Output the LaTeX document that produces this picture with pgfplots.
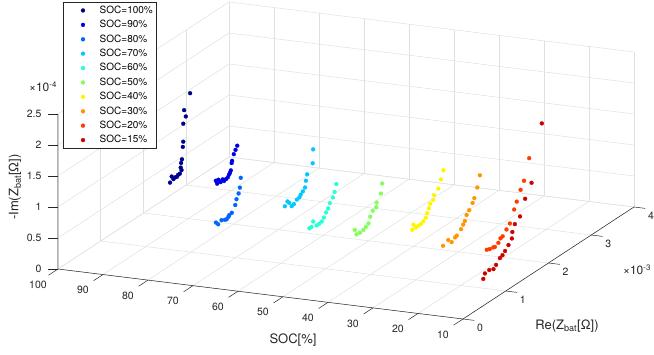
\documentclass[border=0pt]{standalone}
\usepackage{pgfplots}
\pgfplotsset{compat=1.18}
\usepackage{fontspec}
\setmainfont{TeX Gyre Heros}
\definecolor{axc}{rgb}{0.15,0.15,0.15}
\definecolor{gridc}{RGB}{224,224,224}
\definecolor{cA}{RGB}{0,0,143}
\definecolor{cB}{RGB}{0,0,230}
\definecolor{cC}{RGB}{0,100,255}
\definecolor{cD}{RGB}{0,200,255}
\definecolor{cE}{RGB}{40,255,210}
\definecolor{cF}{RGB}{130,255,90}
\definecolor{cG}{RGB}{255,245,0}
\definecolor{cH}{RGB}{255,150,0}
\definecolor{cI}{RGB}{255,60,0}
\definecolor{cJ}{RGB}{205,0,0}
\pgfplotsset{pt/.style={color=#1, only marks, mark=*, mark size=2pt, mark options={solid, fill=#1, draw=#1, line width=0.2pt}}}
\begin{document}
\begin{tikzpicture}[font=\fontsize{10.5}{12}\selectfont]
\begin{axis}[
  x={(4.5pt,-0.5556pt)}, y={(42.75pt,28pt)}, z={(0pt,62pt)},
  x dir=reverse,
  xmin=10, xmax=100, ymin=0, ymax=4, zmin=0, zmax=2.5,
  xtick={10,20,30,40,50,60,70,80,90,100}, ytick={0,1,2,3,4}, ztick={0,0.5,1,1.5,2,2.5},
  xticklabels={}, yticklabels={}, zticklabels={},
  major tick length=0pt,
  grid=major, grid style={color=gridc, line width=0.5pt},
  axis line style={draw=none},
  clip=false,
  legend image code/.code={\draw[white, line width=0.1pt] (0pt,0pt) -- (33.4pt,0pt); \begin{scope}[shift={(18.7pt,0pt)}]\draw[#1] plot coordinates {(0pt,0pt)};\end{scope}},
  legend cell align=left,
  legend style={at={(axis cs:100,0,4.306)}, anchor=north west, xshift=5pt,
    draw=axc, line width=0.5pt, fill=white, inner sep=1pt,
    font=\fontsize{10}{12}\selectfont,
    nodes={inner ysep=2.45pt, text height=7.5pt, text depth=2pt}},
]
\addplot3[pt=cA] coordinates {(100,2.62,0.21) (100,2.66,0.29) (100,2.70,0.23) (100,2.74,0.24) (100,2.78,0.23) (100,2.81,0.25) (100,2.85,0.25) (100,2.89,0.29) (100,2.87,0.34) (100,2.88,0.41) (100,2.90,0.46) (100,2.92,0.65) (100,2.93,0.73) (100,2.93,1.02) (100,2.99,1.11) (100,2.95,1.23) (100,3.09,1.44)};
\addlegendentry{SOC=100\%}
\addplot3[pt=cB] coordinates {(90,2.64,0.32) (90,2.67,0.26) (90,2.70,0.31) (90,2.75,0.25) (90,2.80,0.27) (90,2.83,0.23) (90,2.88,0.24) (90,2.92,0.25) (90,2.95,0.28) (90,2.97,0.30) (90,2.99,0.33) (90,3.01,0.44) (90,3.02,0.47) (90,3.06,0.56) (90,3.10,0.61) (90,3.14,0.66)};
\addlegendentry{SOC=90\%}
\addplot3[pt=cC] coordinates {(80,1.59,0.21) (80,1.64,0.16) (80,1.72,0.19) (80,1.80,0.16) (80,1.84,0.15) (80,1.88,0.17) (80,1.90,0.19) (80,1.96,0.20) (80,2.04,0.29) (80,2.07,0.37) (80,2.12,0.44) (80,2.15,0.52) (80,2.17,0.67)};
\addlegendentry{SOC=80\%}
\addplot3[pt=cD] coordinates {(70,2.15,0.31) (70,2.21,0.36) (70,2.25,0.32) (70,2.31,0.24) (70,2.36,0.25) (70,2.43,0.29) (70,2.49,0.30) (70,2.52,0.33) (70,2.57,0.36) (70,2.62,0.40) (70,2.64,0.50) (70,2.67,0.59) (70,2.80,0.71) (70,2.81,0.93)};
\addlegendentry{SOC=70\%}
\addplot3[pt=cE] coordinates {(60,1.67,0.26) (60,1.72,0.26) (60,1.76,0.33) (60,1.84,0.23) (60,1.90,0.23) (60,1.96,0.24) (60,2.01,0.28) (60,2.06,0.34) (60,2.11,0.38) (60,2.15,0.45) (60,2.22,0.51) (60,2.26,0.58) (60,2.30,0.69)};
\addlegendentry{SOC=60\%}
\addplot3[pt=cF] coordinates {(50,1.68,0.32) (50,1.72,0.23) (50,1.80,0.22) (50,1.88,0.23) (50,1.94,0.25) (50,2.00,0.28) (50,2.04,0.37) (50,2.10,0.44) (50,2.18,0.46) (50,2.19,0.53) (50,2.29,0.63) (50,2.32,0.78)};
\addlegendentry{SOC=50\%}
\addplot3[pt=cG] coordinates {(40,1.97,0.28) (40,2.00,0.35) (40,2.05,0.28) (40,2.11,0.28) (40,2.17,0.28) (40,2.23,0.30) (40,2.29,0.33) (40,2.32,0.39) (40,2.36,0.45) (40,2.39,0.51) (40,2.46,0.54) (40,2.48,0.61) (40,2.58,0.67) (40,2.64,0.79) (40,2.70,0.91)};
\addlegendentry{SOC=40\%}
\addplot3[pt=cH] coordinates {(30,1.64,0.26) (30,1.76,0.30) (30,1.84,0.23) (30,1.92,0.27) (30,1.96,0.28) (30,2.06,0.34) (30,2.11,0.39) (30,2.15,0.43) (30,2.19,0.51) (30,2.25,0.56) (30,2.33,0.64) (30,2.37,0.70) (30,2.44,0.84) (30,2.50,1.01)};
\addlegendentry{SOC=30\%}
\addplot3[pt=cI] coordinates {(20,1.61,0.30) (20,1.68,0.28) (20,1.76,0.27) (20,1.80,0.26) (20,1.88,0.29) (20,1.93,0.34) (20,1.98,0.35) (20,2.07,0.42) (20,2.15,0.48) (20,2.25,0.66) (20,2.31,0.76) (20,2.40,0.91) (20,2.48,1.02) (20,2.60,1.33)};
\addlegendentry{SOC=20\%}
\addplot3[pt=cJ] coordinates {(15,1.00,0.15) (15,1.04,0.22) (15,1.14,0.23) (15,1.24,0.20) (15,1.30,0.24) (15,1.39,0.31) (15,1.45,0.33) (15,1.51,0.37) (15,1.59,0.43) (15,1.67,0.50) (15,1.68,0.60) (15,1.74,0.70) (15,1.86,0.77) (15,1.98,1.00) (15,2.13,1.19) (15,2.37,2.04)};
\addlegendentry{SOC=15\%}
% axis lines, ticks, tick labels
\draw[axc, line width=0.5pt] (axis cs:100,0,2.5) -- (axis cs:100,0,0) -- (axis cs:10,0,0) -- (axis cs:10,4,0);
\pgfplotsinvokeforeach{10,20,30,40,50,60,70,80,90,100}{
  \draw[axc, line width=0.5pt] (axis cs:#1,0,0) -- (axis cs:#1,-0.22,0);
  \node[text=axc, anchor=center, xshift=-20pt, yshift=-15.5pt] at (axis cs:#1,0,0) {#1};
}
\pgfplotsinvokeforeach{0,1,2,3,4}{
  \draw[axc, line width=0.5pt] (axis cs:10,#1,0) -- (axis cs:7.5,#1,0);
  \node[text=axc, anchor=center, xshift=17pt, yshift=-8.5pt] at (axis cs:10,#1,0) {#1};
}
\pgfplotsinvokeforeach{0,0.5,1,1.5,2,2.5}{
  \draw[axc, line width=0.5pt] (axis cs:100,0,#1) -- ++(-10pt,0pt);
  \node[text=axc, anchor=east, xshift=-13pt] at (axis cs:100,0,#1) {#1};
}
\coordinate (O) at (axis cs:100,0,0);
\end{axis}
\begin{scope}[font=\fontsize{13}{15}\selectfont]
\node[text=axc] at ([shift={(235pt,-71pt)}]O) {SOC[\%]};
\node[text=axc] at ([shift={(509pt,-57pt)}]O) {Re(Z\textsubscript{bat}[Ω])};
\node[text=axc, rotate=90] at ([shift={(-43pt,82pt)}]O) {-Im(Z\textsubscript{bat}[Ω])};
\end{scope}
\begin{scope}[font=\fontsize{12}{14}\selectfont]
\node[text=axc] at ([shift={(-15pt,182pt)}]O) {×10\textsuperscript{-4}};
\node[text=axc] at ([shift={(579pt,-1pt)}]O) {×10\textsuperscript{-3}};
\end{scope}
\pgfresetboundingbox
\path (O) ++(-58pt,-86pt) rectangle ++(654pt,355pt);
\end{tikzpicture}
\end{document}
